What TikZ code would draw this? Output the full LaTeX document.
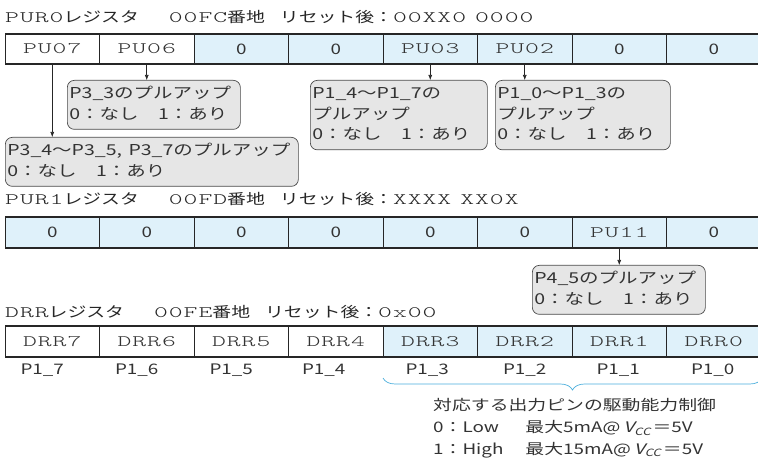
\documentclass[tikz,border=0pt]{standalone}
\usepackage{fontspec}
\usepackage{graphicx}
\usetikzlibrary{arrows.meta,decorations.pathreplacing}
\newfontfamily\jpsans{Noto Sans CJK JP}
\newfontfamily\jpslant{Noto Sans CJK JP}[FakeSlant=0.2]
\newfontfamily\regtt{lmmonolt10-regular.otf}[FakeStretch=1.65,LetterSpace=6]
\newcommand\jpf{\jpsans\fontsize{14.5}{20.5}\selectfont}
\newcommand\jpcf{\jpsans\fontsize{15}{20.5}\selectfont}
\newcommand\regttf{\regtt\fontsize{16}{18}\selectfont}
\newcommand\sx[1]{\scalebox{1.3}[1]{#1}}
\newcommand\cl[1]{\sx{\begin{tabular}{@{}l@{}}#1\end{tabular}}}
\definecolor{cellblue}{HTML}{DFF1FA}
\definecolor{boxfill}{HTML}{E6E6E6}
\definecolor{boxline}{HTML}{4A4A4A}
\definecolor{txt}{HTML}{333333}
\definecolor{bracecol}{HTML}{4BAEDC}
\begin{document}
\begin{tikzpicture}[x=1pt,y=-1pt,
 cell/.style={draw=black!85, line width=0.7pt, minimum width=94.5pt, minimum height=30pt, inner sep=0pt, outer sep=0pt, font=\jpf, text=txt, anchor=north west},
 title/.style={inner sep=0pt, anchor=base west, font=\jpf, text=black!85},
 callout/.style={draw=boxline, line width=0.7pt, fill=boxfill, rounded corners=7pt, inner xsep=2pt, inner ysep=4pt, align=left, anchor=north west, font=\jpcf, text=txt},
 pin/.style={draw=black!85, line width=0.6pt, -{Latex[length=5pt,width=4pt]}},
 sub/.style={font=\jpf, text=txt, inner sep=0pt}]
\useasboundingbox (0,0) rectangle (758,462);
% titles
\node[title] (t1) at (5,23) {{\regttf PUR0}\sx{レジスタ}\hspace{30pt}{\regttf 00FC}\sx{番地}\hspace{15pt}\sx{リセット後：}{\regttf 00XX0\hspace{9pt}0000}};
\node[title] (t2) at (5,205) {{\regttf PUR1}\sx{レジスタ}\hspace{30pt}{\regttf 00FD}\sx{番地}\hspace{15pt}\sx{リセット後：}{\regttf XXXX\hspace{9pt}XX0X}};
\node[title] (t3) at (5,318) {{\regttf DRR}\sx{レジスタ}\hspace{30pt}{\regttf 00FE}\sx{番地}\hspace{15pt}\sx{リセット後：}{\regttf 0x00}};
% register rows
\foreach \i/\t/\f in {0/{\regttf PU07}/white,1/{\regttf PU06}/white,2/\sx{0}/cellblue,3/\sx{0}/cellblue,4/{\regttf PU03}/cellblue,5/{\regttf PU02}/cellblue,6/\sx{0}/cellblue,7/\sx{0}/cellblue}
  \node[cell, fill=\f] (a\i) at ({5+94.5*\i},34) {\t};
\foreach \i/\t in {0/\sx{0},1/\sx{0},2/\sx{0},3/\sx{0},4/\sx{0},5/\sx{0},6/{\regttf PU11},7/\sx{0}}
  \node[cell, fill=cellblue, minimum height=31pt] (b\i) at ({5+94.5*\i},217) {\t};
\foreach \i/\t/\f in {0/DRR7/white,1/DRR6/white,2/DRR5/white,3/DRR4/white,4/DRR3/cellblue,5/DRR2/cellblue,6/DRR1/cellblue,7/DRR0/cellblue}
  \node[cell, fill=\f, minimum height=31pt] (c\i) at ({5+94.5*\i},326) {\regttf \t};
\foreach \r in {a,b,c} {
  \draw[line width=1.3pt, black!85] (\r0.north west) -- (\r7.north east);
  \draw[line width=1.3pt, black!85] (\r0.south west) -- (\r7.south east);
}
% callouts
\node[callout, text width=169pt] (p33) at (67,80) {\cl{P3\_3のプルアップ\\0：なし　1：あり}};
\node[callout, text width=289pt] (p34) at (5,137) {\cl{P3\_4～P3\_5, P3\_7のプルアップ\\0：なし　1：あり}};
\node[callout, text width=173pt] (p14) at (310,80) {\cl{P1\_4～P1\_7の\\プルアップ\\0：なし　1：あり}};
\node[callout, text width=171pt] (p10) at (495,80) {\cl{P1\_0～P1\_3の\\プルアップ\\0：なし　1：あり}};
\node[callout, text width=169pt] (p45) at (532,265) {\cl{P4\_5のプルアップ\\0：なし　1：あり}};
% arrows
\draw[pin] (a0.south) -- (a0.south |- p34.north);
\draw[pin] (a1.south) -- (a1.south |- p33.north);
\draw[pin] (a4.south) -- (a4.south |- p14.north);
\draw[pin] (a5.south) -- (a5.south |- p10.north);
\draw[pin] (b6.south) -- (b6.south |- p45.north);
% pin labels
\foreach \i/\t/\dx in {0/P1\_7/-10,1/P1\_6/-10,2/P1\_5/-10,3/P1\_4/-12,4/P1\_3/-3,5/P1\_2/0,6/P1\_1/-1,7/P1\_0/-1}
  \node[sub] (s\i) at ({52.25+94.5*\i+\dx},370) {\sx{\t}};
% brace
\coordinate (bl) at (383,378);
\coordinate (br) at (762,378);
\draw[bracecol, line width=0.7pt, decorate, decoration={brace, mirror, amplitude=12pt}] (bl) -- (br);
% description
\node[sub, anchor=west] (d1) at (433,405) {\sx{対応する出力ピンの駆動能力制御}};
\node[sub, anchor=west] (d2) at (433,428) {\sx{\makebox[71pt][l]{0：Low}最大5mA@\,{\jpslant V\raisebox{-2.5pt}{\fontsize{10}{10}\selectfont CC}}\kern1.5pt＝5V}};
\node[sub, anchor=west] (d3) at (433,450) {\sx{\makebox[71pt][l]{1：High}最大15mA@\,{\jpslant V\raisebox{-2.5pt}{\fontsize{10}{10}\selectfont CC}}\kern1.5pt＝5V}};
\end{tikzpicture}
\end{document}
